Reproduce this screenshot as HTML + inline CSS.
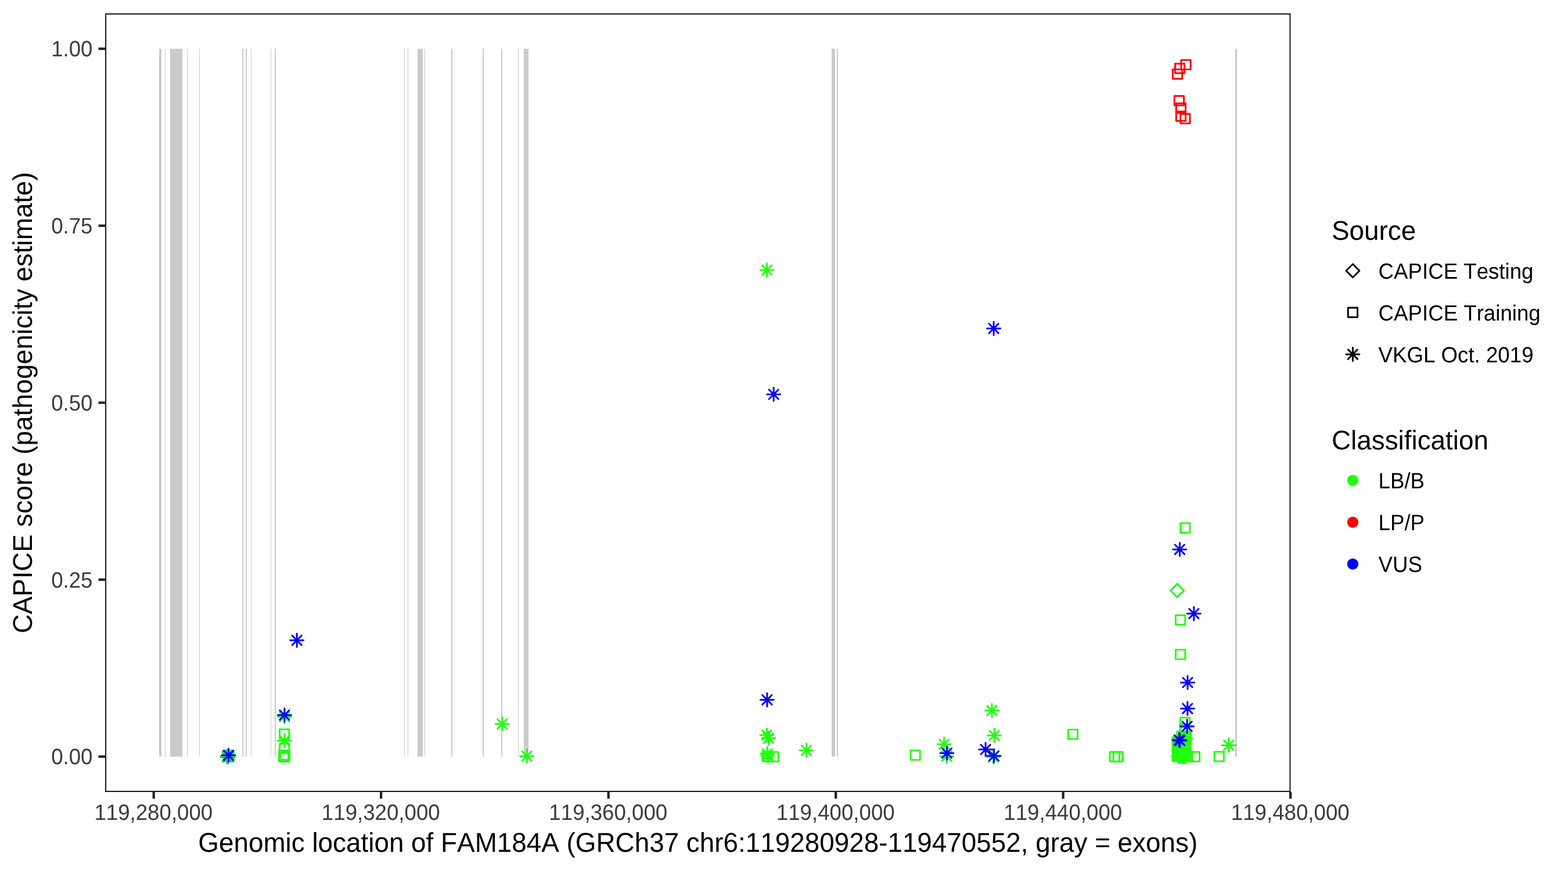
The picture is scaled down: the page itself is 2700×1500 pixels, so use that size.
<!DOCTYPE html>
<html lang="en"><head><meta charset="utf-8"><title>CAPICE score - FAM184A</title>
<style>html,body{margin:0;padding:0;background:#fff}body{width:2700px;height:1500px;overflow:hidden}svg{display:block}text{font-family:"Liberation Sans",Arial,Helvetica,sans-serif;font-kerning:none;text-rendering:geometricPrecision}.s{font-size:36.67px}.l{font-size:45.83px}.g{fill:#3B3B3B}</style></head><body>
<svg width="2700" height="1500" viewBox="0 0 2700 1500">
<rect width="2700" height="1500" fill="#fff"/>
<g fill="#CACACA" shape-rendering="crispEdges">
<rect x="274" y="84" width="4" height="1219"/>
<rect x="284" y="84" width="1" height="1219"/>
<rect x="293" y="84" width="21" height="1219"/>
<rect x="322" y="84" width="1" height="1219"/>
<rect x="343" y="84" width="1" height="1219"/>
<rect x="417" y="84" width="2" height="1219"/>
<rect x="423" y="84" width="2" height="1219"/>
<rect x="432" y="84" width="1" height="1219"/>
<rect x="466" y="84" width="1" height="1219"/>
<rect x="473" y="84" width="2" height="1219"/>
<rect x="696" y="84" width="1" height="1219"/>
<rect x="702" y="84" width="1" height="1219"/>
<rect x="719" y="84" width="9" height="1219"/>
<rect x="731" y="84" width="1" height="1219"/>
<rect x="777" y="84" width="2" height="1219"/>
<rect x="831" y="84" width="2" height="1219"/>
<rect x="863" y="84" width="2" height="1219"/>
<rect x="892" y="84" width="1" height="1219"/>
<rect x="902" y="84" width="8" height="1219"/>
<rect x="1432" y="84" width="6" height="1219"/>
<rect x="1441" y="84" width="2" height="1219"/>
<rect x="2127" y="84" width="3" height="1219"/>
</g>
<g fill="none" stroke-width="2.95" stroke-linecap="round" stroke-linejoin="round">
<rect x="383.2" y="1291.1" width="20.7" height="21.7" rx="1.5" fill="#21FF0C" stroke="none"/>
<path d="M380.39 1303.1H403.41M391.9 1291.59V1314.61M383.76 1294.96L400.04 1311.24M383.76 1311.24L400.04 1294.96" stroke="#0000FF" stroke-width="3.8"/>
<path d="M380.39 1303.1H403.41M391.9 1291.59V1314.61M383.76 1294.96L400.04 1311.24M383.76 1311.24L400.04 1294.96" stroke="#21FF0C"/>
<path d="M381.99 1300.8H405.01M393.5 1289.29V1312.31M385.36 1292.66L401.64 1308.94M385.36 1308.94L401.64 1292.66" stroke="#0000FF"/>
<path d="M478.39 1234.4H501.41M489.9 1222.89V1245.91M481.76 1226.26L498.04 1242.54M481.76 1242.54L498.04 1226.26" stroke="#21FF0C"/>
<path d="M478.39 1231.4H501.41M489.9 1219.89V1242.91M481.76 1223.26L498.04 1239.54M481.76 1239.54L498.04 1223.26" stroke="#0000FF"/>
<rect x="481.66" y="1255.96" width="16.28" height="16.28" stroke="#21FF0C"/>
<path d="M478.39 1275.4H501.41M489.9 1263.89V1286.91M481.76 1267.26L498.04 1283.54M481.76 1283.54L498.04 1267.26" stroke="#21FF0C"/>
<rect x="481.66" y="1280.66" width="16.28" height="16.28" stroke="#21FF0C"/>
<rect x="480.56" y="1292.36" width="16.28" height="16.28" stroke="#21FF0C"/>
<rect x="482.26" y="1294.96" width="16.28" height="16.28" stroke="#21FF0C"/>
<rect x="480.56" y="1294.96" width="16.28" height="16.28" stroke="#21FF0C"/>
<rect x="482.26" y="1292.36" width="16.28" height="16.28" stroke="#21FF0C"/>
<path d="M499.69 1102.7H522.71M511.2 1091.19V1114.21M503.06 1094.56L519.34 1110.84M503.06 1110.84L519.34 1094.56" stroke="#0000FF"/>
<path d="M853.19 1246.8H876.21M864.7 1235.29V1258.31M856.56 1238.66L872.84 1254.94M856.56 1254.94L872.84 1238.66" stroke="#21FF0C"/>
<path d="M895.79 1302.2H918.81M907.3 1290.69V1313.71M899.16 1294.06L915.44 1310.34M899.16 1310.34L915.44 1294.06" stroke="#21FF0C"/>
<path d="M1308.99 465.1H1332.01M1320.5 453.59V476.61M1312.36 456.96L1328.64 473.24M1312.36 473.24L1328.64 456.96" stroke="#21FF0C"/>
<path d="M1320.69 679.1H1343.71M1332.2 667.59V690.61M1324.06 670.96L1340.34 687.24M1324.06 687.24L1340.34 670.96" stroke="#0000FF"/>
<path d="M1309.39 1205.2H1332.41M1320.9 1193.69V1216.71M1312.76 1197.06L1329.04 1213.34M1312.76 1213.34L1329.04 1197.06" stroke="#0000FF"/>
<path d="M1308.94 1266H1331.96M1320.45 1254.49V1277.51M1312.31 1257.86L1328.59 1274.14M1312.31 1274.14L1328.59 1257.86" stroke="#21FF0C"/>
<path d="M1311.99 1271.3H1335.01M1323.5 1259.79V1282.81M1315.36 1263.16L1331.64 1279.44M1315.36 1279.44L1331.64 1263.16" stroke="#21FF0C"/>
<rect x="1324.06" y="1295.06" width="16.28" height="16.28" stroke="#21FF0C"/>
<rect x="1312.96" y="1295.06" width="16.28" height="16.28" stroke="#21FF0C"/>
<path d="M1309.49 1298H1332.51M1321 1286.49V1309.51M1312.86 1289.86L1329.14 1306.14M1312.86 1306.14L1329.14 1289.86" stroke="#21FF0C"/>
<path d="M1310.59 1301.6H1333.61M1322.1 1290.09V1313.11M1313.96 1293.46L1330.24 1309.74M1313.96 1309.74L1330.24 1293.46" stroke="#21FF0C"/>
<path d="M1376.99 1292.2H1400.01M1388.5 1280.69V1303.71M1380.36 1284.06L1396.64 1300.34M1380.36 1300.34L1396.64 1284.06" stroke="#21FF0C"/>
<rect x="1567.96" y="1292.36" width="16.28" height="16.28" stroke="#21FF0C"/>
<path d="M1614.19 1281.6H1637.21M1625.7 1270.09V1293.11M1617.56 1273.46L1633.84 1289.74M1617.56 1289.74L1633.84 1273.46" stroke="#21FF0C"/>
<path d="M1618.69 1302.2H1641.71M1630.2 1290.69V1313.71M1622.06 1294.06L1638.34 1310.34M1622.06 1310.34L1638.34 1294.06" stroke="#21FF0C"/>
<path d="M1618.99 1297H1642.01M1630.5 1285.49V1308.51M1622.36 1288.86L1638.64 1305.14M1622.36 1305.14L1638.64 1288.86" stroke="#0000FF"/>
<path d="M1696.49 1223.8H1719.51M1708 1212.29V1235.31M1699.86 1215.66L1716.14 1231.94M1699.86 1231.94L1716.14 1215.66" stroke="#21FF0C"/>
<path d="M1700.59 1266.6H1723.61M1712.1 1255.09V1278.11M1703.96 1258.46L1720.24 1274.74M1703.96 1274.74L1720.24 1258.46" stroke="#21FF0C"/>
<path d="M1698.79 1303.5H1721.81M1710.3 1291.99V1315.01M1702.16 1295.36L1718.44 1311.64M1702.16 1311.64L1718.44 1295.36" stroke="#21FF0C"/>
<path d="M1685.59 1290.8H1708.61M1697.1 1279.29V1302.31M1688.96 1282.66L1705.24 1298.94M1688.96 1298.94L1705.24 1282.66" stroke="#0000FF"/>
<path d="M1699.99 1301.7H1723.01M1711.5 1290.19V1313.21M1703.36 1293.56L1719.64 1309.84M1703.36 1309.84L1719.64 1293.56" stroke="#0000FF"/>
<path d="M1699.59 565.7H1722.61M1711.1 554.19V577.21M1702.96 557.56L1719.24 573.84M1702.96 573.84L1719.24 557.56" stroke="#0000FF"/>
<rect x="1839.26" y="1256.36" width="16.28" height="16.28" stroke="#21FF0C"/>
<rect x="1911.06" y="1294.96" width="16.28" height="16.28" stroke="#21FF0C"/>
<rect x="1917.06" y="1294.96" width="16.28" height="16.28" stroke="#21FF0C"/>
<rect x="2033.92" y="103.36" width="16.28" height="16.28" stroke="#FF0000"/>
<rect x="2023.36" y="109.81" width="16.28" height="16.28" stroke="#FF0000"/>
<rect x="2019.42" y="119.42" width="16.28" height="16.28" stroke="#FF0000"/>
<rect x="2022.3" y="165.26" width="16.28" height="16.28" stroke="#FF0000"/>
<rect x="2025.29" y="178.01" width="16.28" height="16.28" stroke="#FF0000"/>
<rect x="2025.29" y="191.99" width="16.28" height="16.28" stroke="#FF0000"/>
<rect x="2032.74" y="196.25" width="16.28" height="16.28" stroke="#FF0000"/>
<rect x="2032.61" y="900.96" width="16.28" height="16.28" stroke="#21FF0C"/>
<path d="M2019.89 946.2H2042.91M2031.4 934.69V957.71M2023.26 938.06L2039.54 954.34M2023.26 954.34L2039.54 938.06" stroke="#0000FF"/>
<path d="M2015.49 1016.9L2027 1005.39L2038.51 1016.9L2027 1028.41Z" stroke="#21FF0C"/>
<path d="M2044.29 1056.7H2067.31M2055.8 1045.19V1068.21M2047.66 1048.56L2063.94 1064.84M2047.66 1064.84L2063.94 1048.56" stroke="#0000FF"/>
<rect x="2024.46" y="1059.56" width="16.28" height="16.28" stroke="#21FF0C"/>
<rect x="2024.46" y="1118.86" width="16.28" height="16.28" stroke="#21FF0C"/>
<path d="M2033.49 1175.4H2056.51M2045 1163.89V1186.91M2036.86 1167.26L2053.14 1183.54M2036.86 1183.54L2053.14 1167.26" stroke="#0000FF"/>
<path d="M2033.29 1220.2H2056.31M2044.8 1208.69V1231.71M2036.66 1212.06L2052.94 1228.34M2036.66 1228.34L2052.94 1212.06" stroke="#0000FF"/>
<rect x="2032.36" y="1235.86" width="16.28" height="16.28" stroke="#21FF0C"/>
<rect x="2031.96" y="1247.46" width="16.28" height="16.28" stroke="#21FF0C"/>
<rect x="2026.76" y="1259.66" width="16.28" height="16.28" stroke="#21FF0C"/>
<rect x="2034.46" y="1260.66" width="16.28" height="16.28" stroke="#21FF0C"/>
<path d="M2029.99 1272H2053.01M2041.5 1260.49V1283.51M2033.36 1263.86L2049.64 1280.14M2033.36 1280.14L2049.64 1263.86" stroke="#21FF0C"/>
<rect x="2017.5" y="1268.3" width="34.1" height="44" rx="1.5" fill="#21FF0C" stroke="none"/>
<rect x="2019.76" y="1269.46" width="16.28" height="16.28" stroke="#21FF0C"/>
<rect x="2033.76" y="1271.86" width="16.28" height="16.28" stroke="#21FF0C"/>
<path d="M2017.09 1302.6H2040.11M2028.6 1291.09V1314.11M2020.46 1294.46L2036.74 1310.74M2020.46 1310.74L2036.74 1294.46" stroke="#21FF0C"/>
<path d="M2017.99 1292.4H2041.01M2029.5 1280.89V1303.91M2021.36 1284.26L2037.64 1300.54M2021.36 1300.54L2037.64 1284.26" stroke="#21FF0C"/>
<path d="M2019.99 1303H2043.01M2031.5 1291.49V1314.51M2023.36 1294.86L2039.64 1311.14M2023.36 1311.14L2039.64 1294.86" stroke="#21FF0C"/>
<path d="M2022.49 1302.9H2045.51M2034 1291.39V1314.41M2025.86 1294.76L2042.14 1311.04M2025.86 1311.04L2042.14 1294.76" stroke="#21FF0C"/>
<path d="M2024.99 1303H2048.01M2036.5 1291.49V1314.51M2028.36 1294.86L2044.64 1311.14M2028.36 1311.14L2044.64 1294.86" stroke="#21FF0C"/>
<path d="M2027.49 1302.9H2050.51M2039 1291.39V1314.41M2030.86 1294.76L2047.14 1311.04M2030.86 1311.04L2047.14 1294.76" stroke="#21FF0C"/>
<path d="M2029.99 1303H2053.01M2041.5 1291.49V1314.51M2033.36 1294.86L2049.64 1311.14M2033.36 1311.14L2049.64 1294.86" stroke="#21FF0C"/>
<rect x="2036.56" y="1295.06" width="16.28" height="16.28" stroke="#21FF0C"/>
<rect x="2049.26" y="1295.06" width="16.28" height="16.28" stroke="#21FF0C"/>
<rect x="2091.16" y="1294.76" width="16.28" height="16.28" stroke="#21FF0C"/>
<path d="M2104.19 1283.4H2127.21M2115.7 1271.89V1294.91M2107.56 1275.26L2123.84 1291.54M2107.56 1291.54L2123.84 1275.26" stroke="#21FF0C"/>
<path d="M2032.59 1250.9H2055.61M2044.1 1239.39V1262.41M2035.96 1242.76L2052.24 1259.04M2035.96 1259.04L2052.24 1242.76" stroke="#0000FF"/>
<path d="M2018.79 1274.1H2041.81M2030.3 1262.59V1285.61M2022.16 1265.96L2038.44 1282.24M2022.16 1282.24L2038.44 1265.96" stroke="#0000FF"/>
<path d="M2020.19 1275.4H2043.21M2031.7 1263.89V1286.91M2023.56 1267.26L2039.84 1283.54M2023.56 1283.54L2039.84 1267.26" stroke="#0000FF"/>
</g>
<rect x="182.05" y="24.05" width="2039.4" height="1338.9" fill="none" stroke="#1E1E1E" stroke-width="2.1"/>
<g stroke="#242424" stroke-width="4.3" fill="none">
<path d="M264.7 1364V1375.5"/>
<path d="M656.19 1364V1375.5"/>
<path d="M1047.68 1364V1375.5"/>
<path d="M1439.17 1364V1375.5"/>
<path d="M1830.66 1364V1375.5"/>
<path d="M2222.15 1364V1375.5"/>
<path d="M169.5 1303.05H181"/>
<path d="M169.5 998.27H181"/>
<path d="M169.5 693.5H181"/>
<path d="M169.5 388.73H181"/>
<path d="M169.5 83.95H181"/>
</g>
<text class="s g" text-anchor="middle" transform="translate(264.3 1411.8) scale(1 1.045)">119,280,000</text>
<text class="s g" text-anchor="middle" transform="translate(655.79 1411.8) scale(1 1.045)">119,320,000</text>
<text class="s g" text-anchor="middle" transform="translate(1047.28 1411.8) scale(1 1.045)">119,360,000</text>
<text class="s g" text-anchor="middle" transform="translate(1438.77 1411.8) scale(1 1.045)">119,400,000</text>
<text class="s g" text-anchor="middle" transform="translate(1830.26 1411.8) scale(1 1.045)">119,440,000</text>
<text class="s g" text-anchor="middle" transform="translate(2221.75 1411.8) scale(1 1.045)">119,480,000</text>
<text class="s g" text-anchor="end" transform="translate(159.5 1316.45) scale(1 1.045)">0.00</text>
<text class="s g" text-anchor="end" transform="translate(159.5 1011.67) scale(1 1.045)">0.25</text>
<text class="s g" text-anchor="end" transform="translate(159.5 706.9) scale(1 1.045)">0.50</text>
<text class="s g" text-anchor="end" transform="translate(159.5 402.12) scale(1 1.045)">0.75</text>
<text class="s g" text-anchor="end" transform="translate(159.5 97.35) scale(1 1.045)">1.00</text>
<text class="l" text-anchor="middle" transform="translate(1201.75 1466.8) scale(1 1.025)">Genomic location of FAM184A (GRCh37 chr6:119280928-119470552, gray = exons)</text>
<text class="l" text-anchor="middle" transform="translate(55 693.5) rotate(-90) scale(1 1.020)">CAPICE score (pathogenicity estimate)</text>
<text class="l" transform="translate(2293 412.8) scale(1 1.015)">Source</text>
<g fill="none" stroke="#000" stroke-width="2.95" stroke-linecap="round" stroke-linejoin="round">
<path d="M2317.89 466.2L2329.4 454.69L2340.91 466.2L2329.4 477.71Z"/>
<rect x="2321.26" y="530.06" width="16.28" height="16.28"/>
<path d="M2317.89 610.2H2340.91M2329.4 598.69V621.71M2321.26 602.06L2337.54 618.34M2321.26 618.34L2337.54 602.06"/>
</g>
<text class="s" transform="translate(2373.6 479.9) scale(1 1.035)">CAPICE Testing</text>
<text class="s" transform="translate(2373.6 551.9) scale(1 1.035)">CAPICE Training</text>
<text class="s" transform="translate(2373.6 623.9) scale(1 1.035)">VKGL Oct. 2019</text>
<text class="l" transform="translate(2293 773.9) scale(1 1.015)">Classification</text>
<circle cx="2329.4" cy="827.4" r="9.6" fill="#21FF0C"/>
<circle cx="2329.4" cy="899.4" r="9.6" fill="#FF0000"/>
<circle cx="2329.4" cy="971.4" r="9.6" fill="#0000FF"/>
<text class="s" transform="translate(2373.6 840.8) scale(1 1.045)">LB/B</text>
<text class="s" transform="translate(2373.6 912.8) scale(1 1.045)">LP/P</text>
<text class="s" transform="translate(2373.6 984.8) scale(1 1.045)">VUS</text>
</svg></body></html>
